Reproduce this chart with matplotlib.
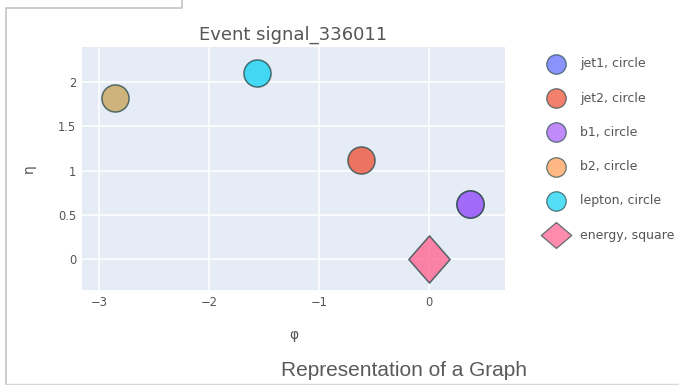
import matplotlib
matplotlib.use("Agg")
import matplotlib.pyplot as plt
from matplotlib.path import Path

# Event content: azimuth (phi) and pseudorapidity (eta) per object
names = ["jet1", "jet2", "b1", "b2", "lepton", "energy"]
shapes = ["circle", "circle", "circle", "circle", "circle", "square"]
phi = [0.37, -0.62, 0.37, -2.86, -1.57, 0.0]
eta = [0.62, 1.12, 0.62, 1.82, 2.10, 0.0]
legend_colors = ["#636EFA", "#EF553B", "#AB63FA", "#FFA15A", "#19D3F3", "#FF6692"]
face_colors = ["#636EFA", "#EF553B", "#AB63FA", "#C9A55E", "#19D3F3", "#FF6692"]

title = "Event signal_336011"
caption = "Representation of a Graph"
xticks = [-3, -2, -1, 0]
yticks = [0, 0.5, 1, 1.5, 2]
ytick_labels = ["0", "0.5", "1", "1.5", "2"]

# slightly tall diamond used for the "square" symbol in the plot
diamond = Path([(0, 1), (0.875, 0), (0, -1), (-0.875, 0), (0, 1)],
               [Path.MOVETO, Path.LINETO, Path.LINETO, Path.LINETO, Path.CLOSEPOLY])
# wider diamond for the legend swatch
legend_diamond = Path([(0, 0.85), (1, 0), (0, -0.85), (-1, 0), (0, 0.85)],
                      [Path.MOVETO, Path.LINETO, Path.LINETO, Path.LINETO, Path.CLOSEPOLY])

W, H = 679, 385
fig = plt.figure(figsize=(W / 100, H / 100), dpi=100)
fig.patch.set_facecolor("white")

ax = fig.add_axes([82 / W, 1 - 290 / H, (505 - 82) / W, (290 - 47) / H])
ax.set_facecolor("#E5ECF6")
ax.set_xlim(-3.157, 0.688)
ax.set_ylim(-0.351, 2.40)
ax.set_xticks(xticks)
ax.set_xticklabels(["\u2212" + str(-t) if t < 0 else str(t) for t in xticks])
ax.set_yticks(yticks)
ax.set_yticklabels(ytick_labels)
ax.grid(True, color="white", linewidth=1.1)
ax.set_axisbelow(True)
for s in ax.spines.values():
    s.set_visible(False)
ax.tick_params(length=0, labelsize=8.3, labelcolor="#555555", pad=4)

for i, n in enumerate(names):
    if shapes[i] == "square":
        marker, size = diamond, 34
    else:
        marker, size = "o", 19.5
    ax.plot(phi[i], eta[i], linestyle="none", marker=marker, markersize=size,
            markerfacecolor=face_colors[i], markeredgecolor="#2F4F4F",
            markeredgewidth=1.1, alpha=0.8, zorder=3 + i)

ax.set_title(title, fontsize=13, color="#555555", pad=5)
ax.set_xlabel("\u03c6", fontsize=10, color="#555555", labelpad=14)
ax.set_ylabel("\u03b7", fontsize=10, color="#555555", labelpad=16)

# Overlay in pixel units for legend, caption and frame
ov = fig.add_axes([0, 0, 1, 1])
ov.set_xlim(0, W)
ov.set_ylim(H, 0)
ov.axis("off")
ov.patch.set_alpha(0)

row0, step = 64, 34.2
for i, n in enumerate(names):
    y = row0 + i * step
    if shapes[i] == "square":
        marker, size = legend_diamond, 22
    else:
        marker, size = "o", 14
    ov.plot(556, y, linestyle="none", marker=marker, markersize=size,
            markerfacecolor=legend_colors[i], markeredgecolor="#2F4F4F",
            markeredgewidth=0.9, alpha=0.75)
    ov.text(580, y, f"{n}, {shapes[i]}", fontsize=9, color="#555555",
            va="center", ha="left")

ov.text(404, 371, caption, fontsize=15, color="#5a5a5a",
        family="Liberation Sans", ha="center", va="center")

ov.plot([6, 6, 182, 182], [H, 8, 8, 0], color="#c4c4c4", linewidth=1.2)
ov.plot([6, W], [384, 384], color="#d8d8d8", linewidth=1.0)

fig.savefig("out.png", dpi=100)
